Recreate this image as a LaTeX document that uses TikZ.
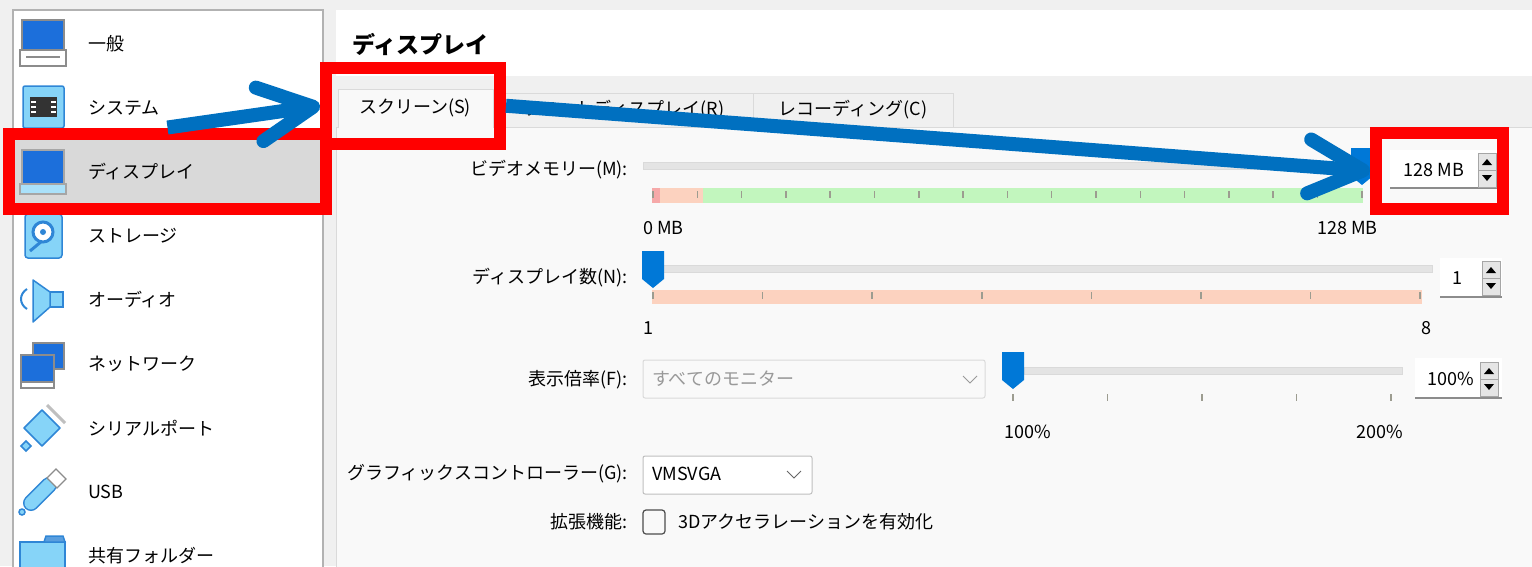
\documentclass[tikz,border=0pt]{standalone}
\usepackage{fontspec}
\setmainfont{Noto Sans CJK JP}
\usetikzlibrary{arrows.meta,positioning}
\definecolor{winbg}{HTML}{F0F0F0}
\definecolor{pane}{HTML}{F9F9F9}
\definecolor{edge}{HTML}{DADADA}
\definecolor{selgray}{HTML}{D9D9D9}
\definecolor{callout}{HTML}{0070C0}
\definecolor{knob}{HTML}{0078D7}
\definecolor{markred}{HTML}{FF0000}
\definecolor{lowred}{HTML}{F6A9A9}
\definecolor{salmon}{HTML}{FCD2BF}
\definecolor{okgreen}{HTML}{C2F6BE}
\definecolor{trk}{HTML}{E4E4E4}
\definecolor{icoblue}{HTML}{1C6FDB}
\definecolor{icolight}{HTML}{86D4F8}
\definecolor{icoedge}{HTML}{2F86D6}
\definecolor{tickgray}{HTML}{9C9C90}
\tikzset{
	ui/.style={inner sep=0pt, font=\fontsize{18}{20}\selectfont, text=black},
	side/.style={ui, anchor=west},
	field/.style={ui, anchor=east},
	redbox/.style={draw=markred, line width=12pt, inner sep=0pt},
	callarrow/.style={draw=callout, line width=14pt, line join=round, -{Straight Barb[length=54pt, width=54pt, round]}},
	track/.style={fill=trk, draw=edge, line width=1pt},
	scaletick/.style={draw=tickgray, line width=1.5pt},
	btn/.style={fill=black!10, draw=black!35, line width=1pt},
	icon/.style={fill=icolight, draw=icoedge, line width=1.5pt},
	screen/.style={fill=icoblue, draw=black!45, line width=1.5pt},
}
\newcommand\knobat[2]{\fill[knob] (#1,#2) ++(-11,0) -- ++(22,0) -- ++(0,28) -- ++(-11,9) -- ++(-11,-9) -- cycle;}
\newcommand\updown[2]{\draw[btn] (#1,#2) rectangle ++(18,34); \draw[btn] (#1,#2) ++(0,17) -- ++(18,0);
	\fill[black] (#1,#2) ++(4,12) -- ++(10,0) -- ++(-5,-6) -- cycle; \fill[black] (#1,#2) ++(4,22) -- ++(10,0) -- ++(-5,6) -- cycle;}
\begin{document}
\begin{tikzpicture}[x=1pt,y=-1pt]
	\useasboundingbox (0,0) rectangle (1532,566);
	\fill[winbg] (0,0) rectangle (1532,566);
	
	\draw[fill=white, draw=black!30, line width=2pt] (13,10) rectangle (323,580);
	\fill[selgray] (15,139) rectangle (321,204);
	
	\draw[screen] (22,20) rectangle (64,50); \draw[fill=white, draw=black!45, line width=1.5pt] (20,50) rectangle (66,66); \draw[black!45, line width=1.2pt] (26,57) -- (60,57);
	\draw[icon, rounded corners=2pt] (23,86) rectangle (64,128); \fill[black!80] (30,97) rectangle (57,117);
	\foreach \yy in {102,107,112} {\draw[white, line width=1.5pt] (31,\yy) -- (36,\yy); \draw[white, line width=1.5pt] (51,\yy) -- (56,\yy);}
	\draw[screen, draw=black!35] (22,150) rectangle (64,184); \draw[fill=icolight!70, draw=black!35, line width=1.5pt] (20,184) rectangle (66,194);
	\draw[icon, rounded corners=3pt] (25,214) rectangle (62,258); \draw[icoedge, line width=3pt, fill=white] (43,232) circle (10pt); \fill[icoedge] (43,232) circle (3pt); \draw[icoedge, line width=3pt] (30,251) -- (42,241);
	\draw[icon] (50,292) rectangle (63,307); \draw[icon, line join=round] (50,292) -- (33,280) -- (33,322) -- (50,307) -- cycle;
	\draw[icoedge, line width=2pt] (27,289) .. controls (19,294) and (19,304) .. (27,309);
	\draw[screen] (33,343) rectangle (64,369); \draw[screen] (21,355) rectangle (54,382); \draw[fill=white, draw=black!45, line width=1.5pt] (21,382) rectangle (54,388);
	\draw[icon, line join=round] (24,428) -- (42,410) -- (60,428) -- (42,446) -- cycle; \draw[black!25, line width=3pt] (47,405) -- (65,423);
	\draw[icon] (21,446) -- (26,441) -- (31,446) -- (26,451) -- cycle;
	\draw[icoedge, line width=16pt, line cap=round] (31,503) -- (49,485); \draw[icolight, line width=13pt, line cap=round] (31,503) -- (49,485);
	\draw[fill=white, draw=black!45, line width=1.2pt] (47,478) -- (56,469) -- (66,479) -- (57,488) -- cycle; \draw[icon] (22,512) circle (3pt);
	\draw[icon] (20,542) rectangle (65,575); \draw[icon, fill=icoedge!80] (46,536) -- (63,536) -- (65,542) -- (44,542) -- cycle;
	
	\foreach \t [count=\i] in {一般,システム,ディスプレイ,ストレージ,オーディオ,ネットワーク,シリアルポート,USB,共有フォルダー}
		\node[side] (item\i) at (88,{44+64*(\i-1)}) {\t};
	
	\fill[white] (336,10) rectangle (1532,76);
	\fill[winbg] (336,76) rectangle (1532,127);
	\draw[fill=pane, draw=edge] (336,127) rectangle (1540,580);
	\node[ui, anchor=west, font=\fontsize{23}{26}\selectfont\bfseries] (title) at (352,44) {ディスプレイ};
	
	\draw[fill=winbg, draw=edge] (493,93) rectangle (753,127);
	\draw[fill=winbg, draw=edge] (753,93) rectangle (953,127);
	\draw[fill=pane, draw=edge] (338,128) -- (338,89) -- (493,89) -- (493,128);
	\node[ui] (tabscr) at (415,108) {スクリーン(S)};
	\node[ui] (tabrem) at (623,110) {リモートディスプレイ(R)};
	\node[ui] (tabrec) at (853,110) {レコーディング(C)};
	
	\node[field] (lblmem) at (628,170) {ビデオメモリー(M):};
	\draw[track] (643,162) rectangle (1378,169);
	\fill[lowred] (652,188) rectangle (660,203); \fill[salmon] (660,188) rectangle (703,203); \fill[okgreen] (703,188) rectangle (1363,203);
	\foreach \i in {0,...,16} \draw[scaletick] ({653+44.3*\i},191) -- ++(0,7);
	\knobat{1362}{148}
	\node[ui, anchor=west] (memlo) at (643,228) {0 MB};
	\node[ui, anchor=east] (memhi) at (1378,228) {128 MB};
	\fill[white] (1390,150) rectangle (1497,188); \draw[black!45, line width=1.2pt] (1390,188) -- (1497,188);
	\node[ui] (memval) at (1434,170) {128 MB}; \updown{1478}{153}
	
	\node[field] (lblcnt) at (628,278) {ディスプレイ数(N):};
	\draw[track] (643,265) rectangle (1432,272);
	\fill[salmon] (652,290) rectangle (1422,304);
	\foreach \i in {0,...,7} \draw[scaletick] ({653+109.6*\i},292) -- ++(0,7);
	\knobat{653}{251}
	\node[ui] (cntlo) at (648,328) {1};
	\node[ui] (cnthi) at (1426,328) {8};
	\fill[white] (1440,258) rectangle (1502,297); \draw[black!45, line width=1.2pt] (1440,297) -- (1502,297);
	\node[ui] (cntval) at (1457,278) {1}; \updown{1482}{261}
	
	\node[field] (lblscl) at (628,380) {表示倍率(F):};
	\draw[fill=pane, draw=edge, line width=1pt, rounded corners=2pt] (643,360) rectangle (985,398);
	\node[ui, anchor=west, text=black!40] (monitors) at (652,379) {すべてのモニター};
	\draw[black!40, line width=1pt] (963,376) -- ++(7,7) -- ++(7,-7);
	\draw[track] (1024,367) rectangle (1402,374);
	\foreach \i in {0,...,4} \draw[scaletick] ({1013+94.5*\i},394) -- ++(0,7);
	\knobat{1013}{352}
	\node[ui, anchor=west] (scllo) at (1004,432) {100\%};
	\node[ui, anchor=east] (sclhi) at (1403,432) {200\%};
	\fill[white] (1415,358) rectangle (1502,398); \draw[black!45, line width=1.2pt] (1415,398) -- (1502,398);
	\node[ui] (sclval) at (1451,379) {100\%}; \updown{1480}{362}
	
	\node[field] (lblgpu) at (628,474) {グラフィックスコントローラー(G):};
	\draw[fill=white, draw=black!25, line width=1pt, rounded corners=2pt] (643,456) rectangle (812,494);
	\node[ui, anchor=west] (gpu) at (652,474) {VMSVGA};
	\draw[black!60, line width=1pt] (787,471) -- ++(7,7) -- ++(7,-7);
	
	\node[field] (lblext) at (628,522) {拡張機能:};
	\draw[fill=pane, draw=black!70, line width=1.2pt, rounded corners=3pt] (643,510) rectangle (665,534);
	\node[ui, anchor=west] (accel) at (678,522) {3Dアクセラレーションを有効化};
	
	\node[redbox, minimum width=317pt, minimum height=75pt] (boxdisp) at (167.5,171) {};
	\node[redbox, minimum width=174pt, minimum height=75.5pt] (boxtab) at (413,105.75) {};
	\node[redbox, minimum width=126.5pt, minimum height=76pt] (boxmem) at (1439.25,171) {};
	\draw[callarrow] (boxdisp.north) -- (boxtab.west);
	\draw[callarrow] (boxtab.east) -- (boxmem.west);
\end{tikzpicture}
\end{document}
